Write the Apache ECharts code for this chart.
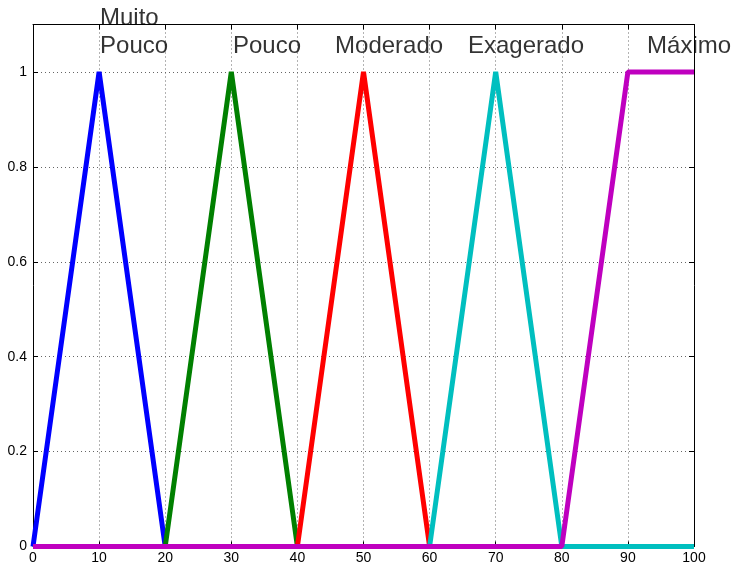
<!DOCTYPE html>
<html>
<head>
<meta charset="utf-8">
<script src="https://cdn.jsdelivr.net/npm/echarts@6/dist/echarts.min.js"></script>
<style>html,body{margin:0;padding:0;background:#fff}#c{width:733px;height:566px}</style>
</head>
<body>
<div id="c"></div>
<script>
// Membership functions (x, degree)
var muitoPouco = [[0,0],[10,1],[20,0],[100,0]];
var pouco      = [[0,0],[20,0],[30,1],[40,0],[100,0]];
var moderado   = [[0,0],[40,0],[50,1],[60,0],[100,0]];
var exagerado  = [[0,0],[60,0],[70,1],[80,0],[100,0]];
var maximo     = [[0,0],[80,0],[90,1],[100,1]];

var seriesNames  = ['Muito Pouco','Pouco','Moderado','Exagerado','Máximo'];
var seriesColors = ['#0000ff','#008000','#ff0000','#00bfbf','#bf00bf'];

// Text labels: [x, y, text] in data coordinates (text centre line)
var labelTexts = [
  [10.14, 1.112, 'Muito'],
  [10.14, 1.053, 'Pouco'],
  [30.26, 1.053, 'Pouco'],
  [45.7, 1.053, 'Moderado'],
  [65.8, 1.053, 'Exagerado'],
  [92.9, 1.053, 'Máximo']
];

var xTicks = [0,10,20,30,40,50,60,70,80,90,100];
var yTicks = [0,0.2,0.4,0.6,0.8,1];

var chart = echarts.init(document.getElementById('c'), null, {renderer:'canvas'});
var font = 'Liberation Sans, Arial, Helvetica, sans-serif';
var gridLine = {show:true, lineStyle:{color:'#666', width:1, type:[1,3]}};
var axisLineStyle = {show:true, onZero:false, lineStyle:{color:'#000', width:1}};

var allData = [muitoPouco, pouco, moderado, exagerado, maximo];
var series = allData.map(function(d, i){
  return {
    name: seriesNames[i], type:'line', data:d, symbol:'none',
    lineStyle:{width:5, color:seriesColors[i]}, itemStyle:{color:seriesColors[i]},
    clip:false, animation:false, z: 3 + i
  };
});
series.push({
  type:'scatter', data: labelTexts.map(function(t){ return [t[0], t[1], t[2]]; }),
  symbolSize: 0, clip:false, animation:false, z: 20,
  label:{show:true, position:[0,0], align:'left', verticalAlign:'middle',
    formatter:function(p){ return p.data[2]; },
    fontFamily: font, fontSize:24, color:'#000'}
});

chart.setOption({
  animation:false,
  backgroundColor:'#fff',
  grid:{left:33, right:39, top:24.5, bottom:19.5, containLabel:false},
  xAxis:[{
    type:'value', min:0, max:100, interval:10, position:'bottom',
    axisLine:axisLineStyle,
    axisTick:{show:true, inside:true, length:5, lineStyle:{color:'#000'}},
    axisLabel:{show:true, margin:5, fontFamily:font, fontSize:14, color:'#000',
      formatter:function(v){ return xTicks.indexOf(v) >= 0 ? String(v) : ''; }},
    splitLine:gridLine
  },{
    type:'value', min:0, max:100, interval:10, position:'top',
    axisLine:axisLineStyle,
    axisTick:{show:true, inside:true, length:5, lineStyle:{color:'#000'}},
    axisLabel:{show:false}, splitLine:{show:false}
  }],
  yAxis:[{
    type:'value', min:0, max:1.1, interval:0.2, position:'left',
    axisLine:axisLineStyle,
    axisTick:{show:true, inside:true, length:5, lineStyle:{color:'#000'}},
    axisLabel:{show:true, margin:6, fontFamily:font, fontSize:14, color:'#000', showMaxLabel:false,
      formatter:function(v){
        for (var i=0;i<yTicks.length;i++){ if (Math.abs(yTicks[i]-v) < 1e-6) return String(yTicks[i]); }
        return '';
      }},
    splitLine:gridLine
  },{
    type:'value', min:0, max:1.1, interval:0.2, position:'right',
    axisLine:axisLineStyle,
    axisTick:{show:true, inside:true, length:5, lineStyle:{color:'#000'}},
    axisLabel:{show:false}, splitLine:{show:false}
  }],
  series: series
});
</script>
</body>
</html>
